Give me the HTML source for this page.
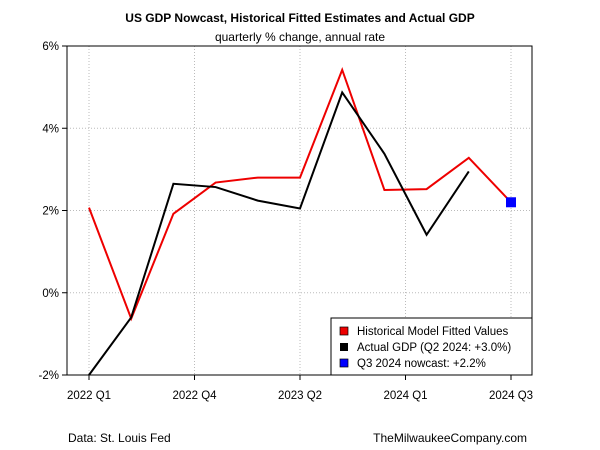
<!DOCTYPE html>
<html><head><meta charset="utf-8"><style>
body{margin:0;background:#fff;}
svg{display:block;font-family:"Liberation Sans",Arial,sans-serif;}
</style></head><body>
<svg id="c" width="600" height="450">
<rect width="600" height="450" fill="#fff"/>
<text x="300" y="22" text-anchor="middle" font-size="12" font-weight="bold">US GDP Nowcast, Historical Fitted Estimates and Actual GDP</text>
<text x="300" y="41" text-anchor="middle" font-size="12">quarterly % change, annual rate</text>
<text x="68" y="442" font-size="12">Data: St. Louis Fed</text>
<text x="527" y="442" text-anchor="end" font-size="12">TheMilwaukeeCompany.com</text>
<g id="grid"></g><g id="axes"></g><g id="series"></g>
<g>
<rect x="331" y="318" width="201" height="57" fill="#fff" stroke="#000"/>
<rect x="340" y="327" width="8" height="8" fill="#e00" stroke="#000" stroke-width="0.7"/>
<text x="357" y="335" font-size="11.5">Historical Model Fitted Values</text>
<rect x="340" y="343" width="8" height="8" fill="#000"/>
<text x="357" y="351" font-size="11.5">Actual GDP (Q2 2024: +3.0%)</text>
<rect x="340" y="359" width="8" height="8" fill="#00f" stroke="#000" stroke-width="0.7"/>
<text x="357" y="367" font-size="11.5">Q3 2024 nowcast: +2.2%</text>
</g>
</svg>
<script>
const fitted=[2.07,-0.63,1.92,2.68,2.8,2.8,5.42,2.5,2.52,3.28,2.2];
const actual=[-2.0,-0.6,2.65,2.57,2.24,2.05,4.87,3.38,1.41,2.95];
const nowcast=[2.2];
const yTicks=[-2,0,2,4,6];
const xTickIdx=[0,2.5,5,7.5,10];
const xTickLabels=["2022 Q1","2022 Q4","2023 Q2","2024 Q1","2024 Q3"];
const L=67,R=532,T=46,B=375;
const x=i=>89+i*(511-89)/10;
const y=v=>B-(v+2)*(B-T)/8;
const NS="http://www.w3.org/2000/svg";
function mk(p,tag,a){const e=document.createElementNS(NS,tag);for(const k in a)e.setAttribute(k,a[k]);document.getElementById(p).appendChild(e);return e;}
yTicks.forEach(v=>{
 const g=mk('grid','line',{x1:L,x2:R,y1:y(v),y2:y(v),stroke:'#bbb','stroke-dasharray':'1,2'});
 
 
 mk('axes','line',{x1:L-5,x2:L,y1:y(v),y2:y(v),stroke:'#000'});
 const t=mk('axes','text',{x:L-8,y:y(v)+4,'text-anchor':'end','font-size':11.5});
 t.textContent=v+'%';
 
 
});
xTickIdx.forEach((i,k)=>{
 const g=mk('grid','line',{x1:x(i),x2:x(i),y1:T,y2:B,stroke:'#bbb','stroke-dasharray':'1,2'});
 
 
 mk('axes','line',{x1:x(i),x2:x(i),y1:B,y2:B+5,stroke:'#000'});
 const t=mk('axes','text',{x:x(i),y:B+24,'text-anchor':'middle','font-size':11.5});
 t.textContent=xTickLabels[k];
 
 
});
const box=mk('axes','rect',{x:L,y:T,width:R-L,height:B-T,fill:'none',stroke:'#000'});


const pf=mk('series','polyline',{points:fitted.map((v,i)=>x(i)+','+y(v)).join(' '),fill:'none',stroke:'#e00','stroke-width':2});


const pa=mk('series','polyline',{points:actual.map((v,i)=>x(i)+','+y(v)).join(' '),fill:'none',stroke:'#000','stroke-width':2});


nowcast.forEach(v=>{
 const s=mk('series','rect',{x:x(10)-5,y:y(v)-5,width:10,height:10,fill:'#00f'});
 
 
});
</script>
</body></html>
